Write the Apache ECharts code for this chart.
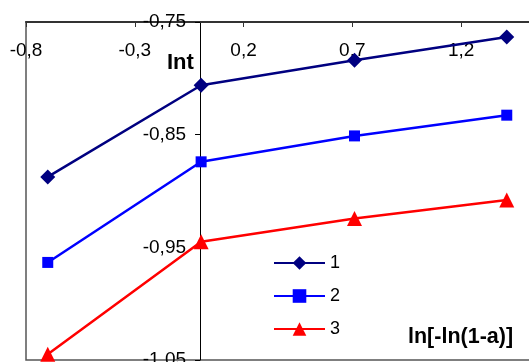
<!DOCTYPE html>
<html>
<head>
<meta charset="utf-8">
<script src="https://cdn.jsdelivr.net/npm/echarts@6/dist/echarts.min.js"></script>
<style>
html,body{margin:0;padding:0;background:#fff;}
#c{width:529px;height:362px;}
</style>
</head>
<body>
<div id="c"></div>
<script>
var xValues = [-0.70, 0.005, 0.71, 1.41];
var series1 = [-0.8875, -0.8061, -0.7840, -0.7633];
var series2 = [-0.9634, -0.8741, -0.8511, -0.8327];
var series3 = [-1.045, -0.945, -0.9244, -0.908];
var seriesNames = ['1', '2', '3'];
var xTitle = 'ln[-ln(1-a)]';
var yTitle = 'Int';

function pairs(ys){ return xValues.map(function(x,i){ return [x, ys[i]]; }); }
function fmt(v){ return (Math.round(v*100)/100).toString().replace('.', ','); }

var FONT = '"Liberation Sans", Arial, sans-serif';
var GRID_LEFT = 26, XMIN = -0.8, XMAX = 1.526, GRID_W = 529 + 3 - 26;
var chart = echarts.init(document.getElementById('c'));
// y axis crosses at x = 0: shift it right by the pixel distance from the grid's left edge
var yOffset = -GRID_W * (0 - XMIN) / (XMAX - XMIN);
chart.setOption({
  animation: false,
  backgroundColor: '#fff',
  grid: {left: GRID_LEFT, top: 22, right: -3, bottom: 2, show: true, borderColor: '#555', borderWidth: 1.5,
         containLabel: false, outerBoundsMode: 'none'},
  xAxis: {
    type: 'value', position: 'top', min: XMIN, max: XMAX, interval: 0.5,
    axisLine: {onZero: false, lineStyle: {color: '#333', width: 2}},
    axisTick: {inside: true, length: 5, lineStyle: {color: '#333', width: 1}},
    axisLabel: {inside: true, margin: 19, color: '#000', fontSize: 19, fontFamily: FONT, showMaxLabel: false,
      formatter: function(v){ return fmt(v); }},
    splitLine: {show: false}
  },
  yAxis: {
    type: 'value', position: 'left', offset: yOffset, min: -1.05, max: -0.75, interval: 0.1,
    axisLine: {onZero: false, lineStyle: {color: '#000', width: 1}},
    axisTick: {length: 5, lineStyle: {color: '#000', width: 1}},
    axisLabel: {margin: 14, color: '#000', fontSize: 19, fontFamily: FONT,
      formatter: function(v){ return fmt(v); }},
    splitLine: {show: false}
  },
  legend: {
    orient: 'vertical', left: 273, top: 254, padding: 0, itemWidth: 51, itemHeight: 17, itemGap: 15,
    textStyle: {color: '#000', fontSize: 18, fontFamily: FONT},
    data: seriesNames
  },
  graphic: [
    {type: 'text', left: 167, top: 52, style: {text: yTitle, font: 'bold 22px ' + FONT, fill: '#000'}},
    {type: 'text', left: 408, top: 326, style: {text: xTitle, font: 'bold 21.5px ' + FONT, fill: '#000'}}
  ],
  series: [
    {name: seriesNames[0], type: 'line', data: pairs(series1), symbol: 'diamond', symbolSize: 15,
     itemStyle: {color: '#000080'}, lineStyle: {color: '#000080', width: 2.5}},
    {name: seriesNames[1], type: 'line', data: pairs(series2), symbol: 'rect', symbolSize: 11,
     itemStyle: {color: '#0000ff'}, lineStyle: {color: '#0000ff', width: 2.5}},
    {name: seriesNames[2], type: 'line', data: pairs(series3), symbol: 'triangle', symbolSize: 15,
     itemStyle: {color: '#ff0000'}, lineStyle: {color: '#ff0000', width: 2.5}}
  ]
});
</script>
</body>
</html>
